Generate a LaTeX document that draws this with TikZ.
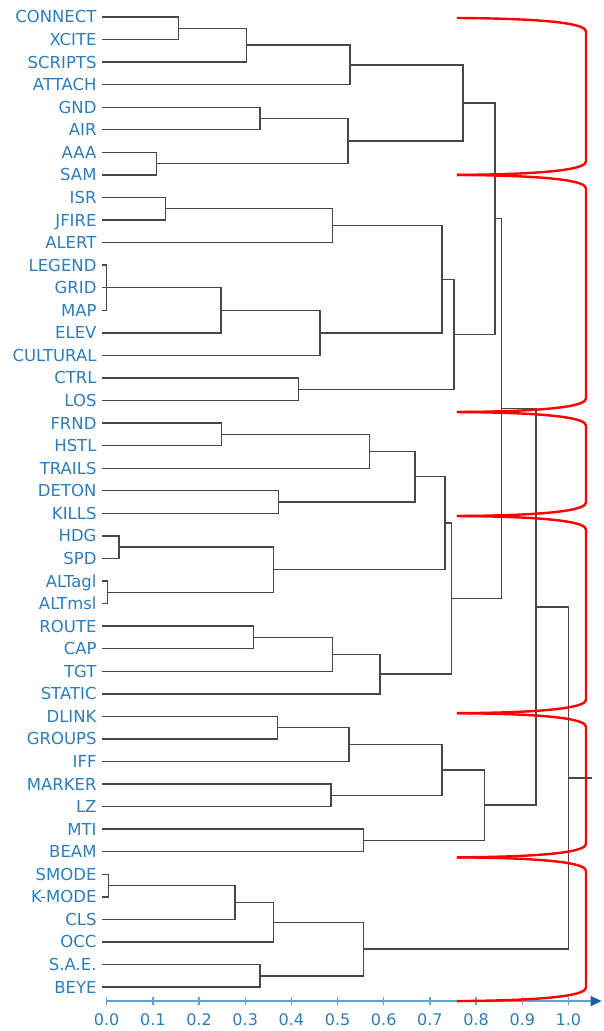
\documentclass[tikz,border=0pt]{standalone}
\usepackage{fontspec}
\setmainfont{DejaVu Sans}
\usepackage{tikz}
\usetikzlibrary{arrows.meta}
\usepackage{xcolor}
\definecolor{labelblue}{RGB}{45,125,185}
\definecolor{axisblue}{RGB}{100,160,210}
\definecolor{arrowblue}{RGB}{25,95,165}

\begin{document}
\begin{tikzpicture}[x=461.7pt,y=-22.56pt,>=Stealth,
    leaf/.style={anchor=east, inner xsep=5pt, inner ysep=0pt, text height=12pt, text depth=0pt, text=labelblue, font=\fontsize{16.5}{18}\selectfont},
    link/.style={draw=black!72, line width=1.4pt},
    clusterbrace/.style={draw=red, line width=2.4pt},
    scaleline/.style={draw=axisblue, line width=1.3pt},
    ticklabel/.style={text=labelblue, font=\fontsize{16}{18}\selectfont}]
  \useasboundingbox (-0.2311,-0.7535) rectangle (1.0771,44.947);
  \node[leaf] (connect) at (-0.0108,0) {CONNECT};
  \node[leaf] (xcite) at (-0.0108,1) {XCITE};
  \node[leaf] (scripts) at (-0.0108,2) {SCRIPTS};
  \node[leaf] (attach) at (-0.0108,3) {ATTACH};
  \node[leaf] (gnd) at (-0.0108,4) {GND};
  \node[leaf] (air) at (-0.0108,5) {AIR};
  \node[leaf] (aaa) at (-0.0108,6) {AAA};
  \node[leaf] (sam) at (-0.0108,7) {SAM};
  \node[leaf] (isr) at (-0.0108,8) {ISR};
  \node[leaf] (jfire) at (-0.0108,9) {JFIRE};
  \node[leaf] (alert) at (-0.0108,10) {ALERT};
  \node[leaf] (legend) at (-0.0108,11) {LEGEND};
  \node[leaf] (grid) at (-0.0108,12) {GRID};
  \node[leaf] (map) at (-0.0108,13) {MAP};
  \node[leaf] (elev) at (-0.0108,14) {ELEV};
  \node[leaf] (cultural) at (-0.0108,15) {CULTURAL};
  \node[leaf] (ctrl) at (-0.0108,16) {CTRL};
  \node[leaf] (los) at (-0.0108,17) {LOS};
  \node[leaf] (frnd) at (-0.0108,18) {FRND};
  \node[leaf] (hstl) at (-0.0108,19) {HSTL};
  \node[leaf] (trails) at (-0.0108,20) {TRAILS};
  \node[leaf] (deton) at (-0.0108,21) {DETON};
  \node[leaf] (kills) at (-0.0108,22) {KILLS};
  \node[leaf] (hdg) at (-0.0108,23) {HDG};
  \node[leaf] (spd) at (-0.0108,24) {SPD};
  \node[leaf] (altagl) at (-0.0108,25) {ALTagl};
  \node[leaf] (altmsl) at (-0.0108,26) {ALTmsl};
  \node[leaf] (route) at (-0.0108,27) {ROUTE};
  \node[leaf] (cap) at (-0.0108,28) {CAP};
  \node[leaf] (tgt) at (-0.0108,29) {TGT};
  \node[leaf] (static) at (-0.0108,30) {STATIC};
  \node[leaf] (dlink) at (-0.0108,31) {DLINK};
  \node[leaf] (groups) at (-0.0108,32) {GROUPS};
  \node[leaf] (iff) at (-0.0108,33) {IFF};
  \node[leaf] (marker) at (-0.0108,34) {MARKER};
  \node[leaf] (lz) at (-0.0108,35) {LZ};
  \node[leaf] (mti) at (-0.0108,36) {MTI};
  \node[leaf] (beam) at (-0.0108,37) {BEAM};
  \node[leaf] (smode) at (-0.0108,38) {SMODE};
  \node[leaf] (kmode) at (-0.0108,39) {K-MODE};
  \node[leaf] (cls) at (-0.0108,40) {CLS};
  \node[leaf] (occ) at (-0.0108,41) {OCC};
  \node[leaf] (sae) at (-0.0108,42) {S.A.E.};
  \node[leaf] (beye) at (-0.0108,43) {BEYE};

  \coordinate (m1) at (0.155,0.5);
  \coordinate (m2) at (0.303,1.25);
  \coordinate (m3) at (0.527,2.125);
  \coordinate (m4) at (0.332,4.5);
  \coordinate (m5) at (0.108,6.5);
  \coordinate (m6) at (0.523,5.5);
  \coordinate (m7) at (0.772,3.8125);
  \coordinate (n1) at (0.128,8.5);
  \coordinate (n2) at (0.489,9.25);
  \coordinate (n3) at (0,12);
  \coordinate (n4) at (0.248,13);
  \coordinate (n5) at (0.462,14);
  \coordinate (n6) at (0.726,11.625);
  \coordinate (n7) at (0.415,16.5);
  \coordinate (n8) at (0.752,14.0625);
  \coordinate (t1) at (0.841,8.9375);
  \coordinate (p1) at (0.249,18.5);
  \coordinate (p2) at (0.569,19.25);
  \coordinate (p3) at (0.372,21.5);
  \coordinate (p4) at (0.668,20.375);
  \coordinate (q1) at (0.027,23.5);
  \coordinate (q2) at (0.002,25.5);
  \coordinate (q3) at (0.361,24.5);
  \coordinate (p5) at (0.733,22.4375);
  \coordinate (r1) at (0.318,27.5);
  \coordinate (r2) at (0.489,28.25);
  \coordinate (r3) at (0.592,29.125);
  \coordinate (p6) at (0.747,25.7813);
  \coordinate (t2) at (0.855,17.3594);
  \coordinate (s1) at (0.370,31.5);
  \coordinate (s2) at (0.525,32.25);
  \coordinate (s3) at (0.486,34.5);
  \coordinate (s4) at (0.726,33.375);
  \coordinate (s5) at (0.556,36.5);
  \coordinate (s6) at (0.818,34.9375);
  \coordinate (t3) at (0.930,26.1484);
  \coordinate (u1) at (0.004,38.5);
  \coordinate (u2) at (0.278,39.25);
  \coordinate (u3) at (0.361,40.125);
  \coordinate (u4) at (0.332,42.5);
  \coordinate (u5) at (0.556,41.3125);
  \coordinate (root) at (1.0,33.7305);
  \coordinate (stub) at (1.0505,33.7305);

  \draw[link] (m1) |- (connect.east) (m1) |- (xcite.east);
  \draw[link] (m2) |- (m1) (m2) |- (scripts.east);
  \draw[link] (m3) |- (m2) (m3) |- (attach.east);
  \draw[link] (m4) |- (gnd.east) (m4) |- (air.east);
  \draw[link] (m5) |- (aaa.east) (m5) |- (sam.east);
  \draw[link] (m6) |- (m4) (m6) |- (m5);
  \draw[link] (m7) |- (m3) (m7) |- (m6);
  \draw[link] (n1) |- (isr.east) (n1) |- (jfire.east);
  \draw[link] (n2) |- (n1) (n2) |- (alert.east);
  \draw[link] (n3) |- (legend.east) (n3) |- (map.east) (n3) -- (grid.east);
  \draw[link] (n4) |- (n3) (n4) |- (elev.east);
  \draw[link] (n5) |- (n4) (n5) |- (cultural.east);
  \draw[link] (n6) |- (n2) (n6) |- (n5);
  \draw[link] (n7) |- (ctrl.east) (n7) |- (los.east);
  \draw[link] (n8) |- (n6) (n8) |- (n7);
  \draw[link] (t1) |- (m7) (t1) |- (n8);
  \draw[link] (p1) |- (frnd.east) (p1) |- (hstl.east);
  \draw[link] (p2) |- (p1) (p2) |- (trails.east);
  \draw[link] (p3) |- (deton.east) (p3) |- (kills.east);
  \draw[link] (p4) |- (p2) (p4) |- (p3);
  \draw[link] (q1) |- (hdg.east) (q1) |- (spd.east);
  \draw[link] (q2) |- (altagl.east) (q2) |- (altmsl.east);
  \draw[link] (q3) |- (q1) (q3) |- (q2);
  \draw[link] (p5) |- (p4) (p5) |- (q3);
  \draw[link] (r1) |- (route.east) (r1) |- (cap.east);
  \draw[link] (r2) |- (r1) (r2) |- (tgt.east);
  \draw[link] (r3) |- (r2) (r3) |- (static.east);
  \draw[link] (p6) |- (p5) (p6) |- (r3);
  \draw[link] (t2) |- (t1) (t2) |- (p6);
  \draw[link] (s1) |- (dlink.east) (s1) |- (groups.east);
  \draw[link] (s2) |- (s1) (s2) |- (iff.east);
  \draw[link] (s3) |- (marker.east) (s3) |- (lz.east);
  \draw[link] (s4) |- (s2) (s4) |- (s3);
  \draw[link] (s5) |- (mti.east) (s5) |- (beam.east);
  \draw[link] (s6) |- (s4) (s6) |- (s5);
  \draw[link] (t3) |- (t2) (t3) |- (s6);
  \draw[link] (u1) |- (smode.east) (u1) |- (kmode.east);
  \draw[link] (u2) |- (u1) (u2) |- (cls.east);
  \draw[link] (u3) |- (u2) (u3) |- (occ.east);
  \draw[link] (u4) |- (sae.east) (u4) |- (beye.east);
  \draw[link] (u5) |- (u3) (u5) |- (u4);
  \draw[link] (root) |- (t3) (root) |- (u5);
  \draw[link] (root) -- (stub);

  \coordinate (ax0) at (0,43.62);
  \coordinate (ax1) at (1.0721,43.62);
  \draw[scaleline, -{Triangle[length=11pt,width=10pt,color=arrowblue]}] (ax0) -- (ax1);
  \foreach \t [count=\k] in {0.0,0.1,0.2,0.3,0.4,0.5,0.6,0.7,0.8,0.9,1.0} {
    \draw[scaleline] (\t,43.44) -- (\t,43.80);
    \node[ticklabel] (tk\k) at (\t,44.46) {\t};
  }

  \coordinate (cut0) at (0.7587,0.044);
  \coordinate (cut1) at (0.7587,7.0);
  \coordinate (cut2) at (0.7587,17.51);
  \coordinate (cut3) at (0.7587,22.12);
  \coordinate (cut4) at (0.7587,30.86);
  \coordinate (cut5) at (0.7587,37.25);
  \coordinate (cut6) at (0.7587,43.62);
  \draw[clusterbrace] (cut0) .. controls +(0.22,0.03) and +(0,-0.3) .. +(0.2794,0.6) -- ([shift={(0.2794,-0.6)}]cut1) .. controls +(0,0.3) and +(0.22,-0.03) .. (cut1);
  \draw[clusterbrace] (cut1) .. controls +(0.22,0.03) and +(0,-0.3) .. +(0.2794,0.6) -- ([shift={(0.2794,-0.6)}]cut2) .. controls +(0,0.3) and +(0.22,-0.03) .. (cut2);
  \draw[clusterbrace] (cut2) .. controls +(0.22,0.03) and +(0,-0.3) .. +(0.2794,0.6) -- ([shift={(0.2794,-0.6)}]cut3) .. controls +(0,0.3) and +(0.22,-0.03) .. (cut3);
  \draw[clusterbrace] (cut3) .. controls +(0.22,0.03) and +(0,-0.3) .. +(0.2794,0.6) -- ([shift={(0.2794,-0.6)}]cut4) .. controls +(0,0.3) and +(0.22,-0.03) .. (cut4);
  \draw[clusterbrace] (cut4) .. controls +(0.22,0.03) and +(0,-0.3) .. +(0.2794,0.6) -- ([shift={(0.2794,-0.6)}]cut5) .. controls +(0,0.3) and +(0.22,-0.03) .. (cut5);
  \draw[clusterbrace] (cut5) .. controls +(0.22,0.03) and +(0,-0.3) .. +(0.2794,0.6) -- ([shift={(0.2794,-0.6)}]cut6) .. controls +(0,0.3) and +(0.22,-0.03) .. (cut6);
\end{tikzpicture}
\end{document}
